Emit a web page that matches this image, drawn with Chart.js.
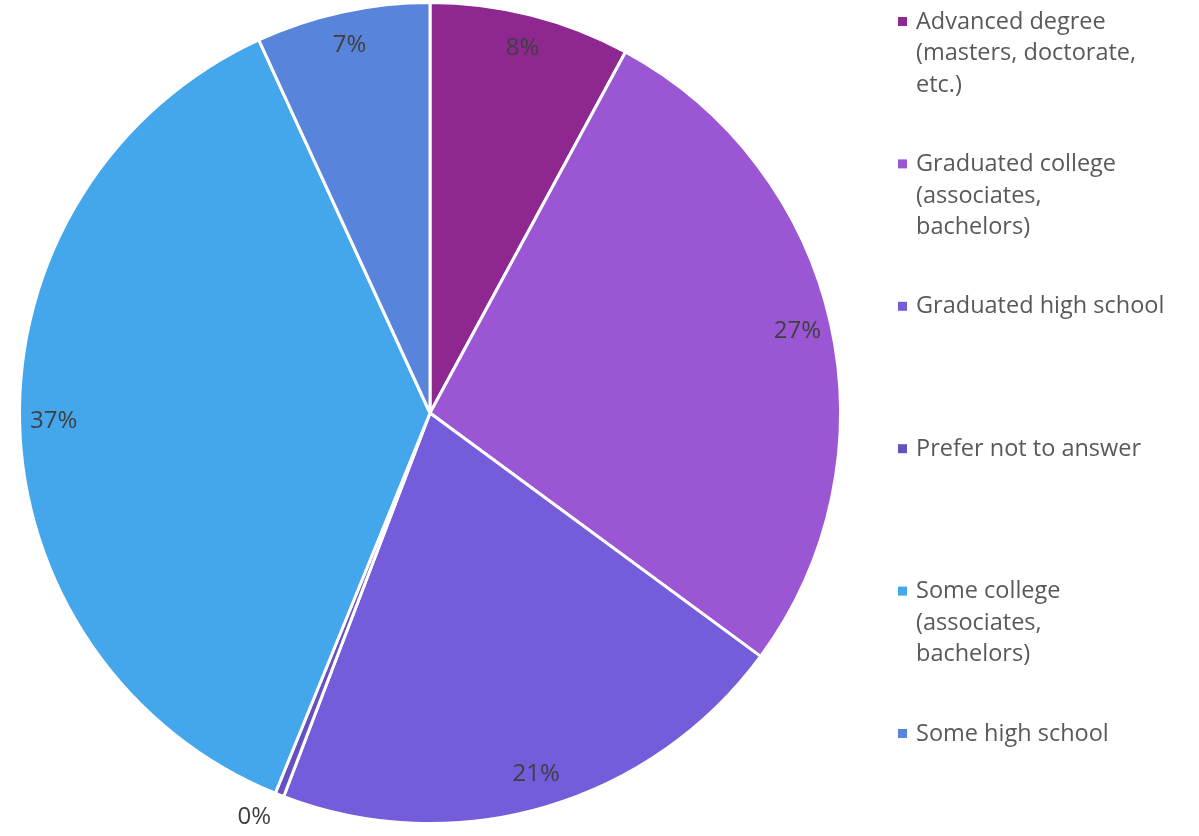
<!DOCTYPE html>
<html>
<head>
<meta charset="utf-8">
<script src="https://cdn.jsdelivr.net/npm/chart.js@4"></script>
<style>
  html, body { margin: 0; padding: 0; background: #fff; }
  #wrap { width: 1199px; height: 836px; position: relative; }
</style>
</head>
<body>
<div id="wrap"><canvas id="eduChart"></canvas></div>
<script>
// Education level of respondents (share of total, %)
const categories = [
    ['Advanced degree', '(masters, doctorate,', 'etc.)'],
    ['Graduated college', '(associates,', 'bachelors)'],
    ['Graduated high school'],
    ['Prefer not to answer'],
    ['Some college', '(associates,', 'bachelors)'],
    ['Some high school']
];
const shares = [7.9, 27.2, 20.7, 0.35, 37.0, 6.85];
const colors = ['#8E278F', '#9B57D3', '#745CDB', '#6550C2', '#44A7EC', '#5884DC'];

const FONT = '"Open Sans", Arial, sans-serif';

// percentage labels: inside near the rim, tiny slices go outside
const sliceLabels = {
    id: 'sliceLabels',
    afterDatasetsDraw(chart) {
        const ctx = chart.ctx;
        const meta = chart.getDatasetMeta(0);
        ctx.save();
        ctx.font = '500 24px ' + FONT;
        ctx.fillStyle = '#3f3f3f';
        ctx.textAlign = 'center';
        ctx.textBaseline = 'middle';
        meta.data.forEach(function (arc, i) {
            const p = arc.getProps(['x', 'y', 'startAngle', 'endAngle', 'outerRadius'], true);
            const mid = (p.startAngle + p.endAngle) / 2;
            const small = shares[i] < 1;
            const r = small ? p.outerRadius + 30 : p.outerRadius - 34;
            const a = small ? mid + 0.035 : mid;
            ctx.fillText(Math.round(shares[i]) + '%', p.x + r * Math.cos(a), p.y + r * Math.sin(a));
        });
        ctx.restore();
    }
};

// legend on the right with wrapped names
const sideLegend = {
    id: 'sideLegend',
    afterDraw(chart) {
        const ctx = chart.ctx;
        ctx.save();
        ctx.font = '500 23.5px ' + FONT;
        ctx.textBaseline = 'middle';
        ctx.textAlign = 'left';
        categories.forEach(function (lines, i) {
            const y = 22 + i * 142.4;
            ctx.fillStyle = colors[i];
            ctx.fillRect(898, y - 5, 9, 9);
            ctx.fillStyle = '#595959';
            lines.forEach(function (line, j) {
                ctx.fillText(line, 916, y + j * 31.5);
            });
        });
        ctx.restore();
    }
};

const chart = new Chart(document.getElementById('eduChart'), {
    type: 'pie',
    data: {
        labels: categories,
        datasets: [{
            data: shares,
            backgroundColor: colors,
            borderColor: '#ffffff',
            borderWidth: 3,
            hoverOffset: 0
        }]
    },
    options: {
        responsive: true,
        maintainAspectRatio: false,
        animation: false,
        layout: { padding: { left: 18, right: 357, top: 1, bottom: 11 } },
        plugins: {
            legend: { display: false },
            tooltip: { enabled: false }
        }
    },
    plugins: [sliceLabels, sideLegend]
});
</script>
</body>
</html>
